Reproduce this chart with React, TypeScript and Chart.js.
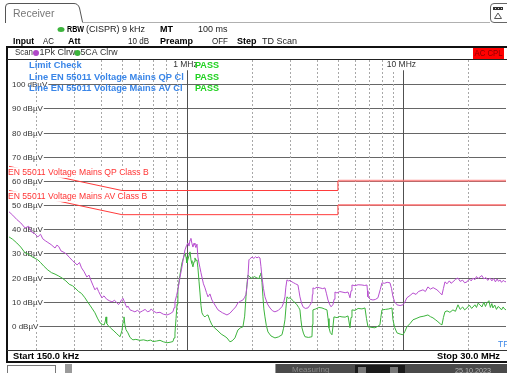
import React, { useEffect, useRef } from "react";
import { Chart, registerables } from "chart.js";
Chart.register(...registerables);

// ---------- data (frequency in MHz, level in dBµV) ----------
const peakFreqs = [
  0.150, 0.156, 0.163, 0.170, 0.178, 0.185, 0.190, 0.197, 0.204, 0.210,
  0.215, 0.221, 0.227, 0.235, 0.245, 0.250, 0.255, 0.261, 0.267, 0.276,
  0.285, 0.295, 0.310, 0.318, 0.325, 0.334, 0.344, 0.352, 0.360, 0.367,
  0.375, 0.383, 0.390, 0.397, 0.404, 0.413, 0.425, 0.437, 0.450, 0.462,
  0.475, 0.482, 0.490, 0.498, 0.506, 0.513, 0.520, 0.527, 0.533, 0.545,
  0.560, 0.574, 0.590, 0.606, 0.623, 0.640, 0.655, 0.670, 0.683, 0.696,
  0.722, 0.750, 0.778, 0.808, 0.835, 0.861, 0.872, 0.880, 0.895, 0.908,
  0.928, 0.948, 0.963, 0.979, 0.995, 1.011, 1.022, 1.033, 1.043, 1.055,
  1.066, 1.078, 1.089, 1.100, 1.113, 1.124, 1.137, 1.149, 1.161, 1.173,
  1.192, 1.212, 1.231, 1.251, 1.278, 1.305, 1.348, 1.392, 1.460, 1.532,
  1.580, 1.633, 1.680, 1.722, 1.770, 1.816, 1.850, 1.876, 1.896, 1.916,
  1.936, 1.960, 2.000, 2.040, 2.080, 2.109, 2.140, 2.178, 2.201, 2.225,
  2.260, 2.297, 2.360, 2.423, 2.490, 2.555, 2.650, 2.754, 2.800, 2.843,
  2.870, 2.904, 2.950, 3.000, 3.063, 3.120, 3.180, 3.265, 3.300, 3.335,
  3.390, 3.443, 3.530, 3.632, 3.700, 3.791, 3.810, 3.831, 3.900, 4.000,
  4.128, 4.250, 4.355, 4.420, 4.497, 4.570, 4.642, 4.742, 4.800, 4.845,
  4.950, 5.100, 5.221, 5.400, 5.566, 5.620, 5.686, 5.750, 5.808, 6.000,
  6.200, 6.460, 6.650, 6.813, 6.850, 6.886, 7.050, 7.262, 7.450, 7.660,
  7.850, 7.995, 8.200, 8.450, 8.707, 8.850, 8.990, 9.150, 9.380, 9.700,
  10.00, 10.20, 10.43, 10.80, 11.13, 11.50, 11.80, 12.38, 12.70, 13.05,
  13.40, 13.80, 14.37, 14.80, 15.16, 15.40, 15.65, 16.00, 16.40, 16.70,
  17.04, 17.50, 17.98, 18.40, 18.90, 19.30, 19.79, 20.30, 20.70, 21.10,
  21.50, 21.90, 22.30, 22.73, 23.20, 23.70, 24.20, 24.70, 25.29, 25.80,
  26.30, 26.80, 27.30, 27.70, 28.12, 28.60, 29.10, 29.50, 30.00,
];
const peakLevels = [
  47.2, 45.8, 44.0, 42.6, 40.5, 41.2, 39.0, 38.2, 36.8, 37.9,
  36.0, 35.2, 34.5, 33.6, 32.2, 33.4, 32.8, 31.0, 30.6, 29.8,
  28.4, 27.0, 25.2, 26.2, 24.0, 22.4, 20.2, 21.0, 18.6, 16.8,
  14.9, 15.8, 14.2, 12.8, 11.6, 12.4, 11.0, 10.4, 9.9, 10.6,
  9.4, 8.8, 9.6, 10.8, 11.4, 10.0, 8.6, 7.6, 8.2, 6.6,
  6.2, 5.8, 6.4, 5.6, 6.2, 6.8, 5.9, 6.0, 7.0, 6.2,
  5.4, 5.6, 4.8, 4.5, 5.0, 5.8, 7.5, 10.0, 12.5, 15.0,
  20.0, 24.4, 28.0, 31.4, 33.2, 34.3, 33.0, 35.5, 36.2, 34.0,
  32.6, 34.2, 33.5, 32.4, 33.8, 28.5, 26.0, 24.0, 22.0, 20.2,
  17.4, 15.7, 13.8, 12.0, 13.2, 10.7, 8.6, 6.6, 5.4, 4.5,
  5.2, 6.6, 7.8, 9.5, 10.2, 10.7, 11.8, 13.0, 16.5, 20.2,
  27.3, 27.8, 28.4, 27.9, 28.6, 28.1, 28.5, 28.1, 24.5, 20.2,
  15.5, 12.0, 9.0, 7.4, 6.2, 5.8, 6.4, 7.9, 9.5, 12.0,
  16.0, 19.0, 18.6, 18.8, 18.2, 17.8, 17.4, 16.9, 14.5, 12.0,
  9.5, 7.9, 7.2, 7.4, 8.4, 10.0, 13.0, 15.7, 15.4, 16.0,
  15.7, 15.4, 15.7, 13.5, 10.7, 9.0, 7.9, 8.7, 11.0, 14.0,
  13.6, 14.2, 14.0, 13.7, 14.0, 13.0, 11.6, 14.5, 16.9, 16.6,
  17.0, 16.9, 16.7, 16.9, 14.5, 12.0, 11.0, 10.7, 10.9, 11.6,
  15.0, 17.8, 17.6, 18.0, 17.8, 15.5, 12.0, 10.0, 8.7, 8.4,
  8.7, 9.8, 11.6, 12.6, 13.6, 13.0, 14.2, 14.9, 14.2, 16.1,
  15.2, 15.8, 14.9, 13.8, 12.8, 15.5, 18.2, 17.4, 18.6, 17.6,
  18.2, 19.2, 19.8, 18.4, 18.9, 17.8, 18.2, 19.4, 18.6, 19.8,
  19.0, 20.4, 19.6, 20.2, 20.8, 19.4, 20.0, 18.8, 19.8, 18.6,
  19.6, 18.2, 19.4, 18.4, 19.0, 18.0, 18.8, 18.4, 18.2,
];

const avgFreqs = [
  0.150, 0.156, 0.163, 0.170, 0.178, 0.185, 0.190, 0.197, 0.204, 0.210,
  0.218, 0.227, 0.236, 0.245, 0.255, 0.264, 0.275, 0.285, 0.295, 0.303,
  0.315, 0.325, 0.337, 0.345, 0.355, 0.365, 0.375, 0.385, 0.396, 0.406,
  0.414, 0.419, 0.422, 0.425, 0.433, 0.442, 0.455, 0.470, 0.480, 0.490,
  0.500, 0.506, 0.511, 0.516, 0.522, 0.533, 0.545, 0.562, 0.580, 0.606,
  0.630, 0.655, 0.680, 0.696, 0.722, 0.750, 0.778, 0.808, 0.835, 0.861,
  0.872, 0.880, 0.890, 0.900, 0.908, 0.928, 0.948, 0.963, 0.979, 0.990,
  1.000, 1.011, 1.022, 1.033, 1.045, 1.055, 1.066, 1.078, 1.089, 1.100,
  1.113, 1.124, 1.137, 1.149, 1.161, 1.173, 1.192, 1.212, 1.231, 1.251,
  1.278, 1.305, 1.340, 1.377, 1.440, 1.500, 1.532, 1.581, 1.620, 1.668,
  1.700, 1.722, 1.770, 1.816, 1.850, 1.876, 1.896, 1.916, 1.936, 1.957,
  2.000, 2.050, 2.109, 2.154, 2.180, 2.201, 2.225, 2.248, 2.270, 2.297,
  2.330, 2.371, 2.450, 2.555, 2.650, 2.754, 2.800, 2.843, 2.870, 2.904,
  2.950, 2.999, 3.100, 3.230, 3.290, 3.335, 3.370, 3.407, 3.460, 3.518,
  3.650, 3.791, 3.810, 3.831, 3.950, 4.080, 4.217, 4.330, 4.449, 4.500,
  4.545, 4.610, 4.692, 4.740, 4.793, 4.950, 5.100, 5.221, 5.400, 5.566,
  5.620, 5.686, 5.750, 5.808, 6.000, 6.200, 6.460, 6.670, 6.780, 6.886,
  7.100, 7.418, 7.650, 7.826, 7.900, 7.995, 8.300, 8.600, 8.895, 8.990,
  9.150, 9.380, 9.700, 10.00, 10.20, 10.43, 10.80, 11.13, 11.50, 11.99,
  12.50, 13.05, 13.40, 13.77, 14.20, 14.52, 14.90, 15.16, 15.40, 15.65,
  16.00, 16.50, 17.04, 17.50, 17.98, 18.40, 18.90, 19.30, 19.79, 20.30,
  20.80, 21.54, 21.90, 22.30, 22.73, 23.20, 23.70, 24.10, 24.49, 25.00,
  25.40, 25.80, 26.10, 26.60, 27.10, 27.60, 28.12, 28.60, 29.10, 29.50,
  30.00,
];
const avgLevels = [
  36.8, 35.8, 34.3, 32.6, 30.2, 29.6, 28.8, 28.0, 27.3, 26.2,
  24.6, 23.1, 22.0, 21.4, 20.6, 19.8, 18.6, 17.2, 16.6, 15.7,
  14.2, 13.4, 11.6, 10.2, 8.6, 7.0, 5.4, 3.2, 1.2, 0.6,
  0.4, 2.0, 3.7, 1.0, 0.0, -0.8, -1.8, -3.0, -3.8, -4.5,
  -2.0, 1.5, 3.7, 0.5, -1.6, -2.9, -4.8, -5.8, -5.6, -6.0,
  -5.8, -6.2, -5.9, -6.5, -6.3, -6.0, -6.6, -7.0, -6.8, -6.5,
  -5.0, -3.0, 3.0, 9.0, 15.0, 21.0, 26.0, 28.0, 30.2, 28.5,
  26.0, 27.5, 29.0, 30.6, 27.0, 25.8, 24.4, 26.5, 28.1, 27.0,
  27.3, 24.0, 18.5, 13.6, 8.5, 5.4, 4.2, 3.7, 4.3, 4.5,
  2.2, 0.4, -0.8, -1.7, -3.4, -4.4, -5.0, -6.6, -6.2, -5.0,
  -3.0, -1.7, -0.8, -0.4, 4.0, 12.0, 17.0, 21.0, 20.6, 20.2,
  19.6, 20.4, 19.8, 19.5, 21.0, 21.9, 18.0, 12.0, 7.0, 3.7,
  0.2, -2.5, -4.2, -5.0, -4.6, -3.7, -1.0, 2.5, 7.0, 12.0,
  11.4, 11.6, 10.4, 8.7, 7.6, 6.6, 2.5, -0.8, -3.0, -4.5,
  -4.8, -4.5, 0.5, 6.6, 7.0, 7.6, 7.4, 7.0, 6.6, 3.0,
  -0.8, -2.8, -3.7, -0.5, 3.7, 3.4, 3.9, 3.7, 3.6, 4.1,
  2.0, -0.8, 3.5, 6.6, 6.4, 7.2, 7.0, 7.4, 3.0, -0.4,
  -0.6, -0.8, -0.2, 0.4, 3.5, 6.6, 6.8, 7.0, 7.4, 2.5,
  -0.6, -2.9, -3.4, -3.7, -2.4, -0.4, 1.0, 2.5, 3.0, 3.7,
  4.0, 4.5, 3.8, 3.3, 2.4, 1.7, 0.8, 0.4, 3.5, 5.8,
  6.2, 5.6, 6.6, 6.0, 8.7, 6.8, 7.8, 6.6, 7.4, 8.6,
  7.2, 8.7, 7.6, 9.4, 8.7, 7.8, 9.8, 8.0, 9.5, 10.4,
  7.6, 9.2, 7.4, 8.6, 6.8, 8.0, 7.4, 6.6, 7.8, 7.0,
  6.6,
];

const qpLimitFreqs = [0.15, 0.5, 5, 5, 30];
const qpLimitLevels = [66, 56, 56, 60, 60];
const avLimitFreqs = [0.15, 0.5, 5, 5, 30];
const avLimitLevels = [56, 46, 46, 50, 50];

const levelTicks = [100, 90, 80, 70, 60, 50, 40, 30, 20, 10, 0];
const minorGridFreqs = [0.2, 0.3, 0.4, 0.5, 0.6, 0.7, 0.8, 0.9, 2, 3, 4, 5, 6, 7, 8, 9, 20];
const majorGridFreqs = [1, 10];
const freqLabelTexts = ["1 MHz", "10 MHz"];

const limitLineNames = ["Line EN 55011 Voltage Mains QP Cl", "Line EN 55011 Voltage Mains AV Cl"];
const limitLabelTexts = ["EN 55011 Voltage Mains QP Class B", "EN 55011 Voltage Mains AV Class B"];

// ---------- drawing helpers ----------
const FONT = '"Liberation Sans", Arial, sans-serif';
type TOpts = { bold?: boolean; color?: string; maxW?: number; align?: CanvasTextAlign; bg?: string };
function txt(ctx: CanvasRenderingContext2D, s: string, x: number, y: number, size: number, o: TOpts = {}) {
  ctx.font = `${o.bold ? "bold " : ""}${size}px ${FONT}`;
  ctx.textAlign = o.align || "left";
  ctx.textBaseline = "middle";
  let w = ctx.measureText(s).width;
  if (o.maxW && w > o.maxW) w = o.maxW;
  if (o.bg) {
    const lx = o.align === "center" ? x - w / 2 : o.align === "right" ? x - w : x;
    ctx.fillStyle = o.bg;
    ctx.fillRect(lx - 1, y - size / 2 - 1, w + 2, size + 2);
  }
  ctx.fillStyle = o.color || "#000";
  if (o.maxW) ctx.fillText(s, x, y, o.maxW);
  else ctx.fillText(s, x, y);
}
function hline(ctx: CanvasRenderingContext2D, x1: number, x2: number, y: number, color: string, w = 1) {
  ctx.strokeStyle = color;
  ctx.lineWidth = w;
  ctx.beginPath();
  ctx.moveTo(x1, y);
  ctx.lineTo(x2, y);
  ctx.stroke();
}
function vline(ctx: CanvasRenderingContext2D, x: number, y1: number, y2: number, color: string, w = 1) {
  ctx.strokeStyle = color;
  ctx.lineWidth = w;
  ctx.beginPath();
  ctx.moveTo(x, y1);
  ctx.lineTo(x, y2);
  ctx.stroke();
}

const backgroundPlugin = {
  id: "receiverBackground",
  beforeDraw(chart: any) {
    const ctx: CanvasRenderingContext2D = chart.ctx;
    const W = chart.width, H = chart.height;
    const xs = chart.scales.x, ys = chart.scales.y;
    const a = chart.chartArea;
    ctx.save();
    ctx.fillStyle = "#fff";
    ctx.fillRect(0, 0, W, H);

    // tab
    ctx.strokeStyle = "#555";
    ctx.lineWidth = 1;
    ctx.beginPath();
    ctx.moveTo(5.5, 23);
    ctx.lineTo(5.5, 7);
    ctx.quadraticCurveTo(5.5, 3.5, 9, 3.5);
    ctx.lineTo(74, 3.5);
    ctx.quadraticCurveTo(78, 3.5, 79.5, 8);
    ctx.lineTo(82.5, 22);
    ctx.stroke();
    hline(ctx, 82, 490, 22.5, "#b0b0b0");
    txt(ctx, "Receiver", 13, 14, 10.5, { color: "#777", maxW: 43 });

    // top-right icon
    ctx.strokeStyle = "#666";
    ctx.beginPath();
    ctx.moveTo(510, 3.5);
    ctx.lineTo(494, 3.5);
    ctx.quadraticCurveTo(490.5, 3.5, 490.5, 7);
    ctx.lineTo(490.5, 19);
    ctx.quadraticCurveTo(490.5, 22.5, 494, 22.5);
    ctx.lineTo(510, 22.5);
    ctx.stroke();
    ctx.fillStyle = "#333";
    ctx.fillRect(493, 7, 10, 3);
    ctx.fillStyle = "#ddd";
    ctx.fillRect(495, 8, 1, 1);
    ctx.fillRect(498, 8, 1, 1);
    ctx.fillRect(501, 8, 1, 1);
    ctx.strokeStyle = "#555";
    ctx.beginPath();
    ctx.moveTo(498, 13);
    ctx.lineTo(501.5, 18.5);
    ctx.lineTo(494.5, 18.5);
    ctx.closePath();
    ctx.stroke();

    // header rows
    ctx.fillStyle = "#3cb43c";
    ctx.beginPath();
    ctx.ellipse(61, 29.5, 3.5, 2.5, 0, 0, Math.PI * 2);
    ctx.fill();
    txt(ctx, "RBW", 67, 29.5, 9, { bold: true, maxW: 17 });
    txt(ctx, "(CISPR) 9 kHz", 86, 29.5, 9, { color: "#222", maxW: 65 });
    txt(ctx, "MT", 160, 29.5, 9, { bold: true, maxW: 13 });
    txt(ctx, "100 ms", 198, 29.5, 9, { color: "#222", maxW: 30 });

    txt(ctx, "Input", 13, 41.5, 9, { bold: true, maxW: 21 });
    txt(ctx, "AC", 43, 41.5, 9, { color: "#222", maxW: 11 });
    txt(ctx, "Att", 68, 41.5, 9, { bold: true, maxW: 15 });
    txt(ctx, "10 dB", 128, 41.5, 9, { color: "#222", maxW: 21 });
    txt(ctx, "Preamp", 160, 41.5, 9, { bold: true, maxW: 34 });
    txt(ctx, "OFF", 212, 41.5, 9, { color: "#222", maxW: 16 });
    txt(ctx, "Step", 237, 41.5, 9, { bold: true, maxW: 21 });
    txt(ctx, "TD Scan", 262, 41.5, 9, { color: "#222", maxW: 36 });

    // scan row
    txt(ctx, "Scan", 15, 53, 9, { color: "#333", maxW: 18 });
    ctx.fillStyle = "#b048c8";
    ctx.beginPath();
    ctx.arc(36, 53, 3, 0, Math.PI * 2);
    ctx.fill();
    txt(ctx, "1Pk Clrw", 39.5, 53, 9, { color: "#333", maxW: 36 });
    ctx.fillStyle = "#3cb43c";
    ctx.beginPath();
    ctx.arc(77.5, 53, 3, 0, Math.PI * 2);
    ctx.fill();
    txt(ctx, "5CA Clrw", 80.5, 53, 9, { color: "#333", maxW: 37 });
    ctx.fillStyle = "#ff0000";
    ctx.fillRect(473, 47, 31, 12);
    txt(ctx, "AC CPL", 474.5, 53.5, 8.5, { color: "#8a0000", maxW: 28 });

    // grid: horizontal
    levelTicks.forEach((v) => {
      const y = Math.round(ys.getPixelForValue(v)) + 0.5;
      hline(ctx, a.left, a.right, y, "#666");
    });
    // vertical dashed minors
    ctx.setLineDash([2, 2]);
    minorGridFreqs.forEach((f) => {
      const x = Math.round(xs.getPixelForValue(f)) + 0.5;
      vline(ctx, x, a.top, a.bottom, "#a8a8a8");
    });
    ctx.setLineDash([]);
    majorGridFreqs.forEach((f) => {
      const x = Math.round(xs.getPixelForValue(f)) + 0.5;
      vline(ctx, x, a.top, a.bottom, "#505050");
    });
    // level labels
    levelTicks.forEach((v) => {
      const y = Math.round(ys.getPixelForValue(v)) + 0.5;
      ctx.font = `8px ${FONT}`;
      const s = `${v} dBµV`;
      const w = ctx.measureText(s).width;
      ctx.fillStyle = "#fff";
      ctx.fillRect(a.left, y - 4, 12 + w - a.left + 1, 8);
      txt(ctx, s, 12, y, 8, { color: "#333" });
    });
    ctx.restore();
  },
  afterDatasetsDraw(chart: any) {
    const ctx: CanvasRenderingContext2D = chart.ctx;
    const xs = chart.scales.x, ys = chart.scales.y;
    const a = chart.chartArea;
    ctx.save();

    // limit labels
    txt(ctx, limitLabelTexts[0], 8, 172.5, 8.6, { color: "#ff3333", bg: "#fff", maxW: 143 });
    txt(ctx, limitLabelTexts[1], 8, 196.5, 8.6, { color: "#ff3333", bg: "#fff", maxW: 143 });

    // frequency labels
    majorGridFreqs.forEach((f, i) => {
      const x = xs.getPixelForValue(f);
      txt(ctx, freqLabelTexts[i], x - 1.5, 65, 8.5, { color: "#333", align: "center", bg: "#fff" });
    });

    // limit check
    const blue = "#3a86e8";
    txt(ctx, "Limit Check", 29, 65, 9.3, { bold: true, color: blue, maxW: 54 });
    txt(ctx, limitLineNames[0], 29, 77.5, 9.3, { bold: true, color: blue, maxW: 160 });
    txt(ctx, limitLineNames[1], 29, 88.5, 9.3, { bold: true, color: blue, maxW: 160 });
    [65, 77.5, 88.5].forEach((y) => txt(ctx, "PASS", 195, y, 9.3, { bold: true, color: "#1fd11f", maxW: 24 }));

    txt(ctx, "TF", 498, 345, 8.5, { color: "#3a86e8" });

    // frame
    hline(ctx, 6, 507, 47, "#111", 2);
    vline(ctx, 7, 46, 363, "#111", 2);
    hline(ctx, 7, 507, 59.5, "#222", 1);
    hline(ctx, 7, 507, Math.round(a.bottom) + 0.5, "#333", 1);
    ctx.fillStyle = "#fff";
    ctx.fillRect(8, 351, 499, 10);
    txt(ctx, "Start 150.0 kHz", 13, 356.5, 9.3, { bold: true, maxW: 70 });
    txt(ctx, "Stop 30.0 MHz", 500, 356.5, 9.3, { bold: true, align: "right", maxW: 64 });
    hline(ctx, 6, 507, 362, "#111", 2);

    // status bar
    ctx.fillStyle = "#fff";
    ctx.fillRect(0, 363, 507, 10);
    ctx.strokeStyle = "#777";
    ctx.lineWidth = 1;
    ctx.strokeRect(7.5, 365.5, 48, 10);
    ctx.fillStyle = "#9a9a9a";
    ctx.fillRect(65, 364, 7, 9);
    ctx.fillStyle = "#4a4a4a";
    ctx.fillRect(275, 364, 232, 9);
    vline(ctx, 275.5, 364, 373, "#999");
    txt(ctx, "Measuring", 292, 369.5, 8, { color: "#8a8a8a", maxW: 42 });
    ctx.fillStyle = "#1a1a1a";
    ctx.fillRect(355, 365, 50, 8);
    ctx.fillStyle = "#777";
    ctx.fillRect(358, 367, 8, 6);
    ctx.fillRect(390, 367, 8, 6);
    txt(ctx, "25.10.2023", 455, 371, 8, { color: "#b5b5b5", maxW: 36 });
    ctx.restore();
  },
};

function pts(fs: number[], ls: number[]) {
  return fs.map((f, i) => ({ x: f, y: ls[i] }));
}

export default function App() {
  const ref = useRef<HTMLCanvasElement | null>(null);
  useEffect(() => {
    if (!ref.current) return;
    const limitSeg = {
      borderColor: (c: any) => (c.p0.parsed.x >= 5 && c.p1.parsed.x >= 5 && c.p0.parsed.y === c.p1.parsed.y ? "rgba(255,110,110,0.75)" : "#ff3b3b"),
      borderWidth: (c: any) => (c.p0.parsed.x >= 5 && c.p1.parsed.x >= 5 && c.p0.parsed.y === c.p1.parsed.y ? 2 : 1),
    };
    const chart = new Chart(ref.current, {
      type: "line",
      data: {
        datasets: [
          { label: "1Pk Clrw", data: pts(peakFreqs, peakLevels), borderColor: "#b84fd0", borderWidth: 1, pointRadius: 0, tension: 0 },
          { label: "5CA Clrw", data: pts(avgFreqs, avgLevels), borderColor: "#3cb43c", borderWidth: 1, pointRadius: 0, tension: 0 },
          { label: "QP limit", data: pts(qpLimitFreqs, qpLimitLevels), borderColor: "#ff3b3b", borderWidth: 1, pointRadius: 0, segment: limitSeg },
          { label: "AV limit", data: pts(avLimitFreqs, avLimitLevels), borderColor: "#ff3b3b", borderWidth: 1, pointRadius: 0, segment: limitSeg },
        ],
      } as any,
      options: {
        animation: false,
        responsive: false,
        devicePixelRatio: 1,
        events: [],
        layout: { padding: { left: 9, right: 1, top: 60, bottom: 23 } },
        plugins: { legend: { display: false }, tooltip: { enabled: false } },
        scales: {
          x: { type: "logarithmic", min: 0.15, max: 30, display: false },
          y: { type: "linear", min: -10, max: 110, display: false },
        },
      } as any,
      plugins: [backgroundPlugin],
    });
    return () => chart.destroy();
  }, []);
  return (
    <div style={{ position: "fixed", left: 0, top: 0, width: 507, height: 373, background: "#fff" }}>
      <canvas ref={ref} width={507} height={373} style={{ display: "block" }} />
    </div>
  );
}
